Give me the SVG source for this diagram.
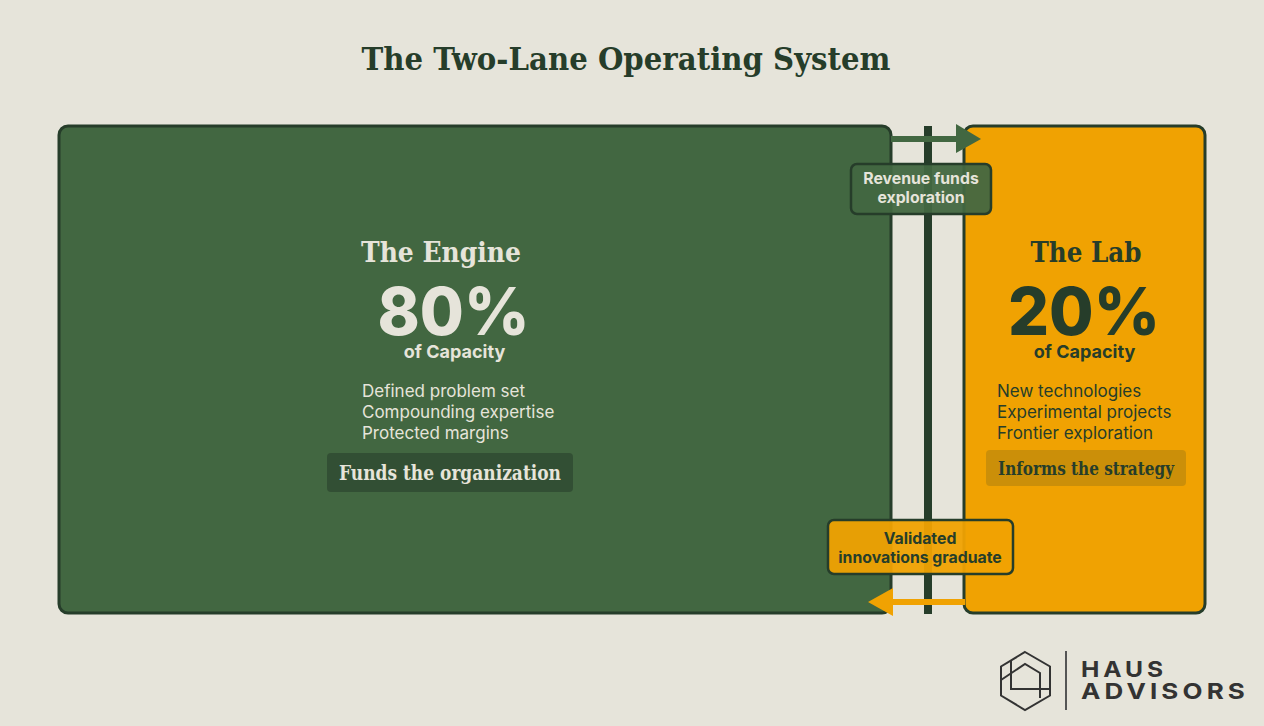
<svg xmlns="http://www.w3.org/2000/svg" width="1264" height="726" viewBox="0 0 1264 726">
<style>
.serif{font-family:"DejaVu Serif","Liberation Serif",serif;font-weight:700}
.sans{font-family:Inter,"Liberation Sans",sans-serif}
.lane{stroke:#263d2a;stroke-width:3}
.mid{text-anchor:middle}
.big{font-size:66px;font-weight:800;text-anchor:middle}
.cap{font-size:18px;font-weight:700;text-anchor:middle}
.item{font-size:17px;font-weight:400}
.head{font-size:27px;text-anchor:middle}
.tag{font-size:20px;text-anchor:middle}
.lab{font-size:15.8px;font-weight:700;text-anchor:middle}
.light{fill:#e6e4da}.dark{fill:#263d2a}
.brand{font-family:Inter,sans-serif;font-size:22px;font-weight:700;letter-spacing:3.5px;fill:#333;stroke:none}
</style>
<rect width="1264" height="726" fill="#e6e4da"/>
<text class="serif mid dark" x="626" y="69.500" font-size="32" textLength="529" lengthAdjust="spacingAndGlyphs" id="title">The Two-Lane Operating System</text>
<g id="engine">
<rect class="lane" x="59" y="126" width="832" height="487" rx="9" fill="#426741"/>
<text class="serif head light" x="441" y="262" textLength="160" lengthAdjust="spacingAndGlyphs">The Engine</text>
<text class="sans big light" x="453.500" y="335" textLength="152" lengthAdjust="spacingAndGlyphs">80%</text>
<text class="sans cap light" x="454.500" y="358">of Capacity</text>
<text class="sans item light" x="362" y="396.500">Defined problem set</text>
<text class="sans item light" x="362" y="417.500">Compounding expertise</text>
<text class="sans item light" x="362" y="438.500">Protected margins</text>
<rect x="327" y="453" width="246" height="39" rx="4" fill="#263d2a" fill-opacity="0.55"/>
<text class="serif tag light" x="450" y="480" textLength="222" lengthAdjust="spacingAndGlyphs">Funds the organization</text>
</g>
<g id="lab">
<rect class="lane" x="964" y="126" width="241" height="487" rx="9" fill="#f0a202"/>
<text class="serif head dark" x="1086" y="262" textLength="111" lengthAdjust="spacingAndGlyphs">The Lab</text>
<text class="sans big dark" x="1084" y="335" textLength="152" lengthAdjust="spacingAndGlyphs">20%</text>
<text class="sans cap dark" x="1084.500" y="358">of Capacity</text>
<text class="sans item dark" x="997" y="396.500">New technologies</text>
<text class="sans item dark" x="997" y="417.500">Experimental projects</text>
<text class="sans item dark" x="997" y="438.500">Frontier exploration</text>
<rect x="986" y="450" width="200" height="36" rx="4" fill="#263d2a" fill-opacity="0.18"/>
<text class="serif dark mid" x="1086" y="475" font-size="18.500" textLength="176" lengthAdjust="spacingAndGlyphs">Informs the strategy</text>
</g>
<g id="connectors">
<rect x="924" y="126" width="8" height="488" fill="#263d2a"/>
<path d="M891 139H957" stroke="#426741" stroke-width="6" fill="none"/>
<path d="M956 124L981 139L956 153Z" fill="#426741"/>
<path d="M965 602H892" stroke="#f0a202" stroke-width="6" fill="none"/>
<path d="M893 588L868 602L893 616Z" fill="#f0a202"/>
</g>
<g id="label-revenue">
<rect x="851" y="164" width="140" height="50" rx="6" fill="#426741" fill-opacity="0.95" stroke="#263d2a" stroke-width="2.500"/>
<text class="sans lab light" x="921" y="184">Revenue funds</text>
<text class="sans lab light" x="921" y="203">exploration</text>
</g>
<g id="label-validated">
<rect x="828" y="520" width="185" height="54" rx="6" fill="#f0a202" fill-opacity="0.95" stroke="#263d2a" stroke-width="2.500"/>
<text class="sans lab dark" x="920" y="544">Validated</text>
<text class="sans lab dark" x="920" y="563">innovations graduate</text>
</g>
<g id="logo" fill="none" stroke="#333" stroke-width="2">
<path d="M1025 652L1050 666.500V695.500L1025 710L1001 695.500V666.500Z"/>
<path d="M1001 680L1025 664L1040 673V698M1011 661V689H1050"/>
<path d="M1066 651V710" stroke="#555"/>
<text class="brand" x="1081" y="677" textLength="86" lengthAdjust="spacingAndGlyphs">HAUS</text>
<text class="brand" x="1081" y="699" textLength="168" lengthAdjust="spacingAndGlyphs">ADVISORS</text>
</g>
</svg>
